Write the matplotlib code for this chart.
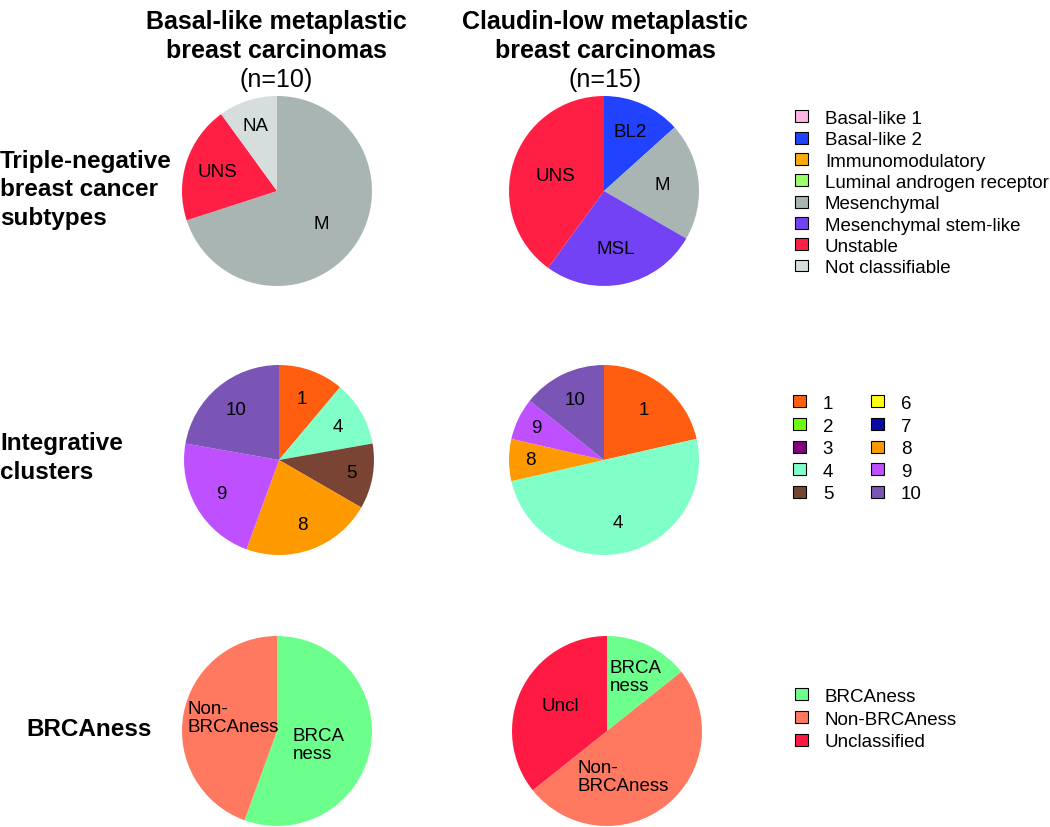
import numpy as np
import matplotlib
matplotlib.use("Agg")
import matplotlib.pyplot as plt
from matplotlib.patches import Patch

plt.rcParams['font.family'] = ['Liberation Sans', 'DejaVu Sans']

# ---- data ----
tnbc_names = ["Basal-like 1", "Basal-like 2", "Immunomodulatory",
              "Luminal androgen receptor", "Mesenchymal",
              "Mesenchymal stem-like", "Unstable", "Not classifiable"]
tnbc_short = ["BL1", "BL2", "IM", "LAR", "M", "MSL", "UNS", "NA"]
tnbc_colors = ["#FFB5E4", "#2142FF", "#FFA90A", "#9CFF6E", "#A8B5B2",
               "#7442F5", "#FF1F45", "#D5DEDC"]
tnbc_basal = [0, 0, 0, 0, 7, 0, 2, 1]
tnbc_claudin = [0, 2, 0, 0, 3, 4, 6, 0]

ic_names = ["1", "2", "3", "4", "5", "6", "7", "8", "9", "10"]
ic_colors = ["#FF5E10", "#6BFF12", "#800080", "#80FFC8", "#7A4435",
             "#FFFF14", "#0A0AA5", "#FF9900", "#BF50FF", "#7B55B6"]
ic_basal = [1, 0, 0, 1, 1, 0, 0, 2, 2, 2]
ic_claudin = [3, 0, 0, 7, 0, 0, 0, 1, 1, 2]

brca_names = ["BRCAness", "Non-BRCAness", "Unclassified"]
brca_short = ["BRCA\nness", "Non-\nBRCAness", "Uncl"]
brca_colors = ["#6CFF8C", "#FF7860", "#FF1A44"]
brca_basal = [5, 4, 0]
brca_claudin = [2, 7, 5]

W, H = 1050, 828
R = 95


def draw_pie(fig, cx, cy, counts, colors, labels, dists, shifts=None):
    ax = fig.add_axes([(cx - R) / W, 1 - (cy + R) / H, 2 * R / W, 2 * R / H])
    keep = [i for i, v in enumerate(counts) if v > 0]
    vals = [counts[i] for i in keep]
    cols = [colors[i] for i in keep]
    labs = [labels[i] for i in keep]
    wedges, _ = ax.pie(vals, colors=cols, startangle=90, counterclock=False,
                       radius=1, wedgeprops=dict(linewidth=0))
    for k, (w, lab) in enumerate(zip(wedges, labs)):
        ang = np.deg2rad((w.theta1 + w.theta2) / 2)
        if shifts:
            ang += np.deg2rad(shifts[k])
        d = dists[k]
        ax.text(d * np.cos(ang), d * np.sin(ang), lab, ha="center",
                va="center", fontsize=13.5, multialignment="left",
                linespacing=1.05)
    ax.set_xlim(-1, 1)
    ax.set_ylim(-1, 1)
    ax.set_aspect("equal")
    ax.axis("off")
    return ax


fig = plt.figure(figsize=(W / 100, H / 100), dpi=100)

# column headers
for cx, head, n in [(276, "Basal-like metaplastic\nbreast carcinomas", 10),
                    (605, "Claudin-low metaplastic\nbreast carcinomas", 15)]:
    fig.text(cx / W, 1 - 10 / H, head, ha="center", va="top", fontsize=18,
             fontweight="bold", linespacing=1.27)
    fig.text(cx / W, 1 - 68 / H, "(n=%d)" % n, ha="center", va="top",
             fontsize=18)

# row headers
fig.text(0 / W, 1 - 190 / H, "Triple-negative\nbreast cancer\nsubtypes",
         ha="left", va="center", fontsize=17.5, fontweight="bold",
         linespacing=1.29)
fig.text(0 / W, 1 - 458 / H, "Integrative\nclusters", ha="left",
         va="center", fontsize=17.5, fontweight="bold", linespacing=1.29)
fig.text(26 / W, 1 - 730 / H, "BRCAness", ha="left", va="center",
         fontsize=17.5, fontweight="bold")

# pies
draw_pie(fig, 277, 192, tnbc_basal, tnbc_colors, tnbc_short,
         [0.58, 0.66, 0.73])
draw_pie(fig, 604, 192, tnbc_claudin, tnbc_colors, tnbc_short,
         [0.69, 0.62, 0.62, 0.54])
draw_pie(fig, 279, 461, ic_basal, ic_colors, ic_names,
         [0.69, 0.71, 0.77, 0.72, 0.70, 0.70])
draw_pie(fig, 604, 461, ic_claudin, ic_colors, ic_names,
         [0.68, 0.67, 0.78, 0.79, 0.71])
draw_pie(fig, 277, 732, brca_basal, brca_colors, brca_short,
         [0.46, 0.48], [-7.6, -7.4])
draw_pie(fig, 607, 732, brca_claudin, brca_colors, brca_short,
         [0.65, 0.51, 0.56], [-1.8, -19, -3.3])


def add_legend(names, colors, x, y, ncol=1, spacing=0.23):
    handles = [Patch(facecolor=c, edgecolor="black", linewidth=0.8)
               for c in colors]
    fig.legend(handles, names, loc="upper left",
               bbox_to_anchor=(x / W, 1 - y / H), frameon=False,
               fontsize=13.5, ncol=ncol, borderpad=0, borderaxespad=0,
               handlelength=0.69, handleheight=0.59, handletextpad=0.9,
               labelspacing=spacing, columnspacing=2.0)


add_legend(tnbc_names, tnbc_colors, 795, 111)
add_legend(ic_names, ic_colors, 793, 396, ncol=2, spacing=0.3)
add_legend(brca_names, brca_colors, 795, 689, spacing=0.3)

fig.savefig("out.png", dpi=100)
